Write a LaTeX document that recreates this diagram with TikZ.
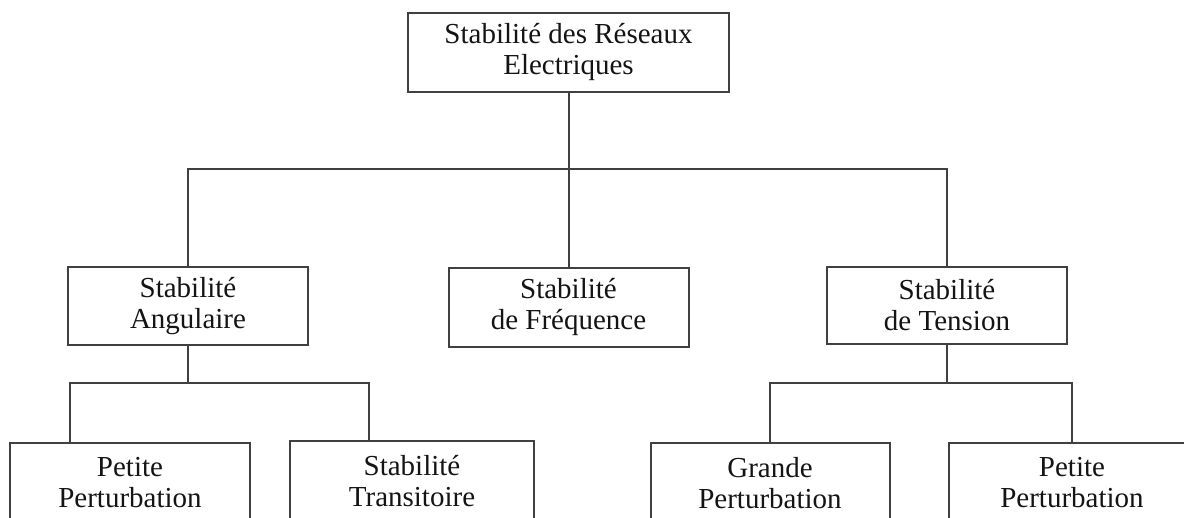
\documentclass[tikz,border=0pt]{standalone}
\usepackage{fontspec}
\setmainfont{Liberation Serif}
\usepackage{tikz}

\begin{document}
\begin{tikzpicture}[x=1pt, y=-1pt,
        bloc/.style={draw=black!75, line width=2pt, align=center, inner sep=0pt,
                     text=black!92, font=\fontsize{29}{31}\selectfont},
        lien/.style={draw=black!75, line width=2pt}]
                \clip (0,0) rectangle (1184,518);

                \node[bloc, minimum width=321pt, minimum height=79pt] (SR) at (568.5,52.5) {Stabilit\'e des R\'eseaux\\Electriques};

                \node[bloc, minimum width=240pt, minimum height=78pt] (SA) at (188,306) {Stabilit\'e\\Angulaire};
                \node[bloc, minimum width=240pt, minimum height=79pt] (SF) at (568.5,307.5) {Stabilit\'e\\de Fr\'equence};
                \node[bloc, minimum width=240pt, minimum height=77pt] (ST) at (947,305.5) {Stabilit\'e\\de Tension};

                \node[bloc, minimum width=240pt, minimum height=80pt] (PP1) at (130,483) {Petite\\Perturbation};
                \node[bloc, minimum width=244pt, minimum height=80pt] (TR) at (412,481) {Stabilit\'e\\Transitoire};
                \node[bloc, minimum width=239pt, minimum height=80pt] (GP) at (770,483) {Grande\\Perturbation};
                \node[bloc, minimum width=246pt, minimum height=80pt] (PP2) at (1072,483) {Petite\\Perturbation};

                \coordinate (J0) at (568.5,169);
                \coordinate (J1) at (188,383);
                \coordinate (J2) at (947,383);

                \draw[lien] (SR.south) -- (SF.north);
                \draw[lien] (SA.north) |- (J0) -| (ST.north);

                \draw[lien] (SA.south) -- (J1);
                \draw[lien] ([xshift=-60pt]PP1.north) |- (J1) -| ([xshift=-43pt]TR.north);

                \draw[lien] (ST.south) -- (J2);
                \draw[lien] (GP.north) |- (J2) -| (PP2.north);
            \end{tikzpicture}
\end{document}
